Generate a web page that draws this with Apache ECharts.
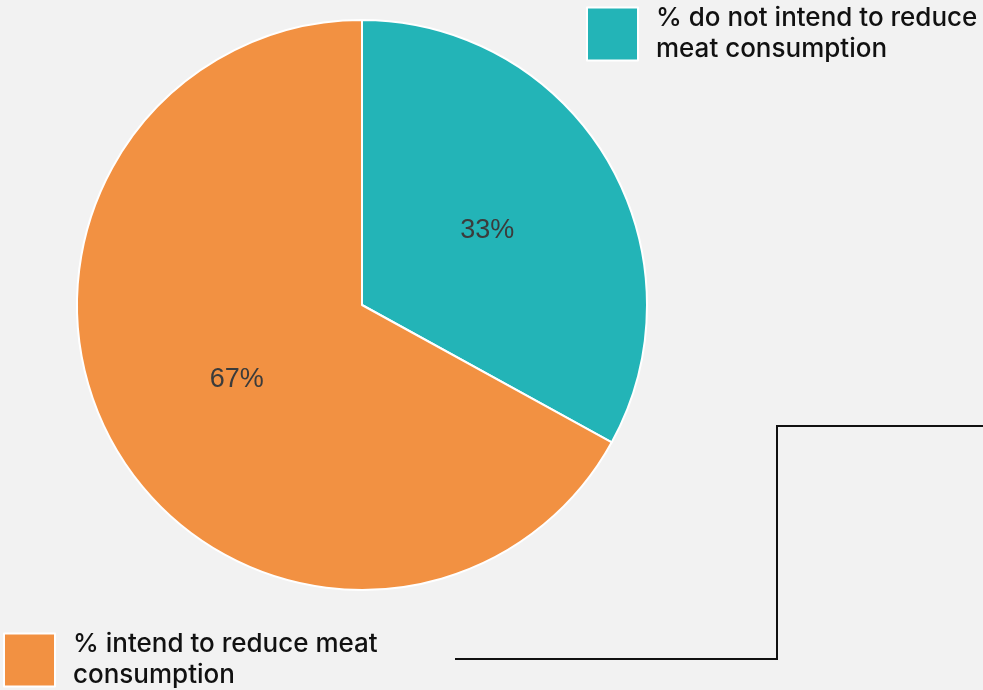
<!DOCTYPE html>
<html><head><meta charset="utf-8">
<script src="https://cdn.jsdelivr.net/npm/echarts@6/dist/echarts.min.js"></script>
<style>html,body{margin:0;padding:0;background:#f2f2f2}#c{width:983px;height:690px}</style>
</head><body><div id="c"></div>
<script>
const categories = ['% do not intend to reduce\nmeat consumption', '% intend to reduce meat\nconsumption'];
const values = [33, 67];
const colors = ['#23b4b7', '#f29142'];

const chart = echarts.init(document.getElementById('c'));
const legendText = {fontFamily: 'Inter', fontSize: 26, fontWeight: 500, color: '#111', lineHeight: 31, padding: [0, 0, 0, 13]};
chart.setOption({
  backgroundColor: '#f2f2f2',
  animation: false,
  legend: [
    {data: [categories[0]], left: 586, top: 3, padding: 0, itemWidth: 51, itemHeight: 53, icon: 'rect', textStyle: legendText, selectedMode: false},
    {data: [categories[1]], left: 3, top: 629, padding: 0, itemWidth: 51, itemHeight: 53, icon: 'rect', textStyle: legendText, selectedMode: false}
  ],
  graphic: [{
    type: 'polyline', shape: {points: [[455, 659], [777, 659], [777, 426], [983, 426]]},
    style: {stroke: '#111', lineWidth: 2, fill: null}
  }],
  series: [{
    type: 'pie', center: [362, 305], radius: 285, startAngle: 90, clockwise: true,
    itemStyle: {borderColor: '#fff', borderWidth: 2},
    label: {position: 'inside', formatter: '{c}%', fontFamily: 'Liberation Sans', fontSize: 27, color: '#3b3b3b', padding: [6, 0, 0, 0]},
    labelLine: {show: false},
    emphasis: {disabled: true},
    data: categories.map((n, i) => ({name: n, value: values[i], itemStyle: {color: colors[i]}}))
  }]
});
</script></body></html>
